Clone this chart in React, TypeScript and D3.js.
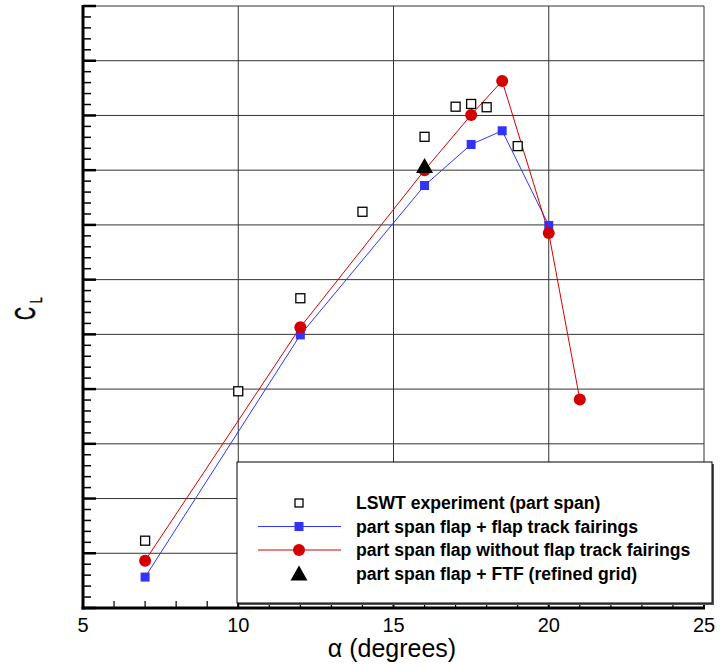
import * as d3 from 'd3'

const width = 720,
      height = 667,
      margin = { top: 6, right: 16, bottom: 59, left: 83 },
      innerWidth = width - margin.left - margin.right,
      innerHeight = height - margin.top - margin.bottom

// angle of attack (deg) and lift coefficient
const ftfAlpha = [7, 12, 16, 17.5, 18.5, 20]
const ftfCL = [0.113, 0.998, 1.544, 1.694, 1.744, 1.398]

const noFtfAlpha = [7, 12, 16, 17.5, 18.5, 20, 21]
const noFtfCL = [0.173, 1.026, 1.6, 1.802, 1.926, 1.37, 0.762]

const lswtAlpha = [7, 10, 12, 14, 16, 17, 17.5, 18, 19]
const lswtCL = [0.246, 0.792, 1.132, 1.448, 1.722, 1.832, 1.842, 1.83, 1.688]

const refinedAlpha = [16]
const refinedCL = [1.615]

const xTicks = [5, 10, 15, 20, 25]

const legendLabels = [
  'LSWT experiment (part span)',
  'part span flap + flap track fairings',
  'part span flap without flap track fairings',
  'part span flap + FTF (refined grid)'
]

const blue = '#3333ff',
      red = '#d40000'

const zip = (xs: number[], ys: number[]) => xs.map((x, i) => [x, ys[i]] as [number, number])

const triangle = (cx: number, cy: number) =>
  `M${cx},${cy - 8} L${cx + 8.5},${cy + 7} L${cx - 8.5},${cy + 7} Z`

export default function App() {
  const xScale = d3.scaleLinear().domain([5, 25]).range([0, innerWidth])
  const yScale = d3.scaleLinear().domain([0, 2.2]).range([innerHeight, 0])

  const yMajor = d3.range(0, 12).map(i => i * 0.2)
  const yMinor = d3.range(0, 56).map(i => i * 0.04).filter((_, i) => i % 5 !== 0)
  const xMinor = d3.range(6, 25).filter(v => v % 5 !== 0)

  const line = d3.line<[number, number]>()
    .x(d => xScale(d[0]))
    .y(d => yScale(d[1]))

  const ftf = zip(ftfAlpha, ftfCL)
  const noFtf = zip(noFtfAlpha, noFtfCL)
  const lswt = zip(lswtAlpha, lswtCL)
  const refined = zip(refinedAlpha, refinedCL)

  const font = 'Liberation Sans, Arial, sans-serif'
  const lx = 237 - margin.left, ly = 462 - margin.top

  return (
    <svg width={width} height={height} style={{ position: 'absolute', left: 0, top: 0, background: '#fff' }}>
      <g transform={`translate(${margin.left},${margin.top})`}>

        <g className='grid'>
          {yMajor.map(v => (
            <line key={v} x1={0} x2={innerWidth} y1={yScale(v)} y2={yScale(v)} stroke='#333' strokeWidth={1} />
          ))}
          {xTicks.slice(1).map(v => (
            <line key={v} x1={xScale(v)} x2={xScale(v)} y1={0} y2={innerHeight} stroke='#333' strokeWidth={1} />
          ))}
        </g>

        <g className='axis left'>
          {yMinor.map(v => (
            <line key={v} x1={0} x2={8} y1={yScale(v)} y2={yScale(v)} stroke='#000' strokeWidth={1.5} />
          ))}
          {yMajor.map(v => (
            <line key={v} x1={0} x2={13} y1={yScale(v)} y2={yScale(v)} stroke='#000' strokeWidth={2.5} />
          ))}
          <line x1={0} x2={0} y1={-1} y2={innerHeight + 1.5} stroke='#000' strokeWidth={3} />
        </g>

        <g className='axis bottom'>
          {xMinor.map(v => (
            <line key={v} x1={xScale(v)} x2={xScale(v)} y1={innerHeight} y2={innerHeight - 7} stroke='#000' strokeWidth={1.2} />
          ))}
          {xTicks.map(v => (
            <line key={v} x1={xScale(v)} x2={xScale(v)} y1={innerHeight} y2={innerHeight - 12} stroke='#000' strokeWidth={2} />
          ))}
          <line x1={-1.5} x2={innerWidth + 1} y1={innerHeight} y2={innerHeight} stroke='#000' strokeWidth={3} />
          {xTicks.map(v => (
            <text key={v} x={xScale(v)} y={innerHeight + 24} textAnchor='middle'
              fontFamily={font} fontSize={20}>{v}</text>
          ))}
        </g>

        <g className='series'>
          <path d={line(ftf) ?? ''} fill='none' stroke={blue} strokeWidth={1} />
          {ftf.map(d => (
            <rect key={d[0]} x={xScale(d[0]) - 4.5} y={yScale(d[1]) - 4.5} width={9} height={9} fill={blue} />
          ))}
          <path d={line(noFtf) ?? ''} fill='none' stroke={red} strokeWidth={1} />
          {noFtf.map(d => (
            <circle key={d[0]} cx={xScale(d[0])} cy={yScale(d[1])} r={6} fill={red} />
          ))}
          {lswt.map(d => (
            <rect key={d[0]} x={xScale(d[0]) - 4.5} y={yScale(d[1]) - 4.5} width={9} height={9}
              fill='#fff' stroke='#000' strokeWidth={1.3} />
          ))}
          {refined.map(d => (
            <path key={d[0]} d={triangle(xScale(d[0]), yScale(d[1]))} fill='#000' />
          ))}
        </g>

        <g className='legend' transform={`translate(${lx},${ly})`}>
          <rect x={2} y={2} width={475} height={141} fill='#555' />
          <rect x={0} y={0} width={475} height={141} fill='#fff' stroke='#000' strokeWidth={1} />
          {legendLabels.map((label, i) => {
            const cy = 41 + i * 23.5
            const sx = 62
            return (
              <g key={label}>
                {i === 1 && <line x1={21} x2={104} y1={cy} y2={cy} stroke={blue} strokeWidth={1} />}
                {i === 2 && <line x1={21} x2={104} y1={cy} y2={cy} stroke={red} strokeWidth={1} />}
                {i === 0 && <rect x={sx - 4} y={cy - 4} width={8} height={8} fill='#fff' stroke='#000' strokeWidth={1.3} />}
                {i === 1 && <rect x={sx - 4.5} y={cy - 4.5} width={9} height={9} fill={blue} />}
                {i === 2 && <circle cx={sx} cy={cy} r={6} fill={red} />}
                {i === 3 && <path d={triangle(sx, cy)} fill='#000' />}
                <text x={119} y={cy + 6} fontFamily={font} fontWeight='bold' fontSize={17.6}>{label}</text>
              </g>
            )
          })}
        </g>
      </g>

      <text x={392} y={657} textAnchor='middle' fontFamily={font} fontSize={25}>α (degrees)</text>

      <text transform='translate(35,320) rotate(-90) scale(0.62,1)' fontFamily={font} fontSize={29}
        stroke='#000' strokeWidth={0.6}>C</text>
      <text transform='translate(42,303) rotate(-90) scale(0.62,1)' fontFamily={font} fontSize={17}
        stroke='#000' strokeWidth={0.4}>L</text>
    </svg>
  )
}
